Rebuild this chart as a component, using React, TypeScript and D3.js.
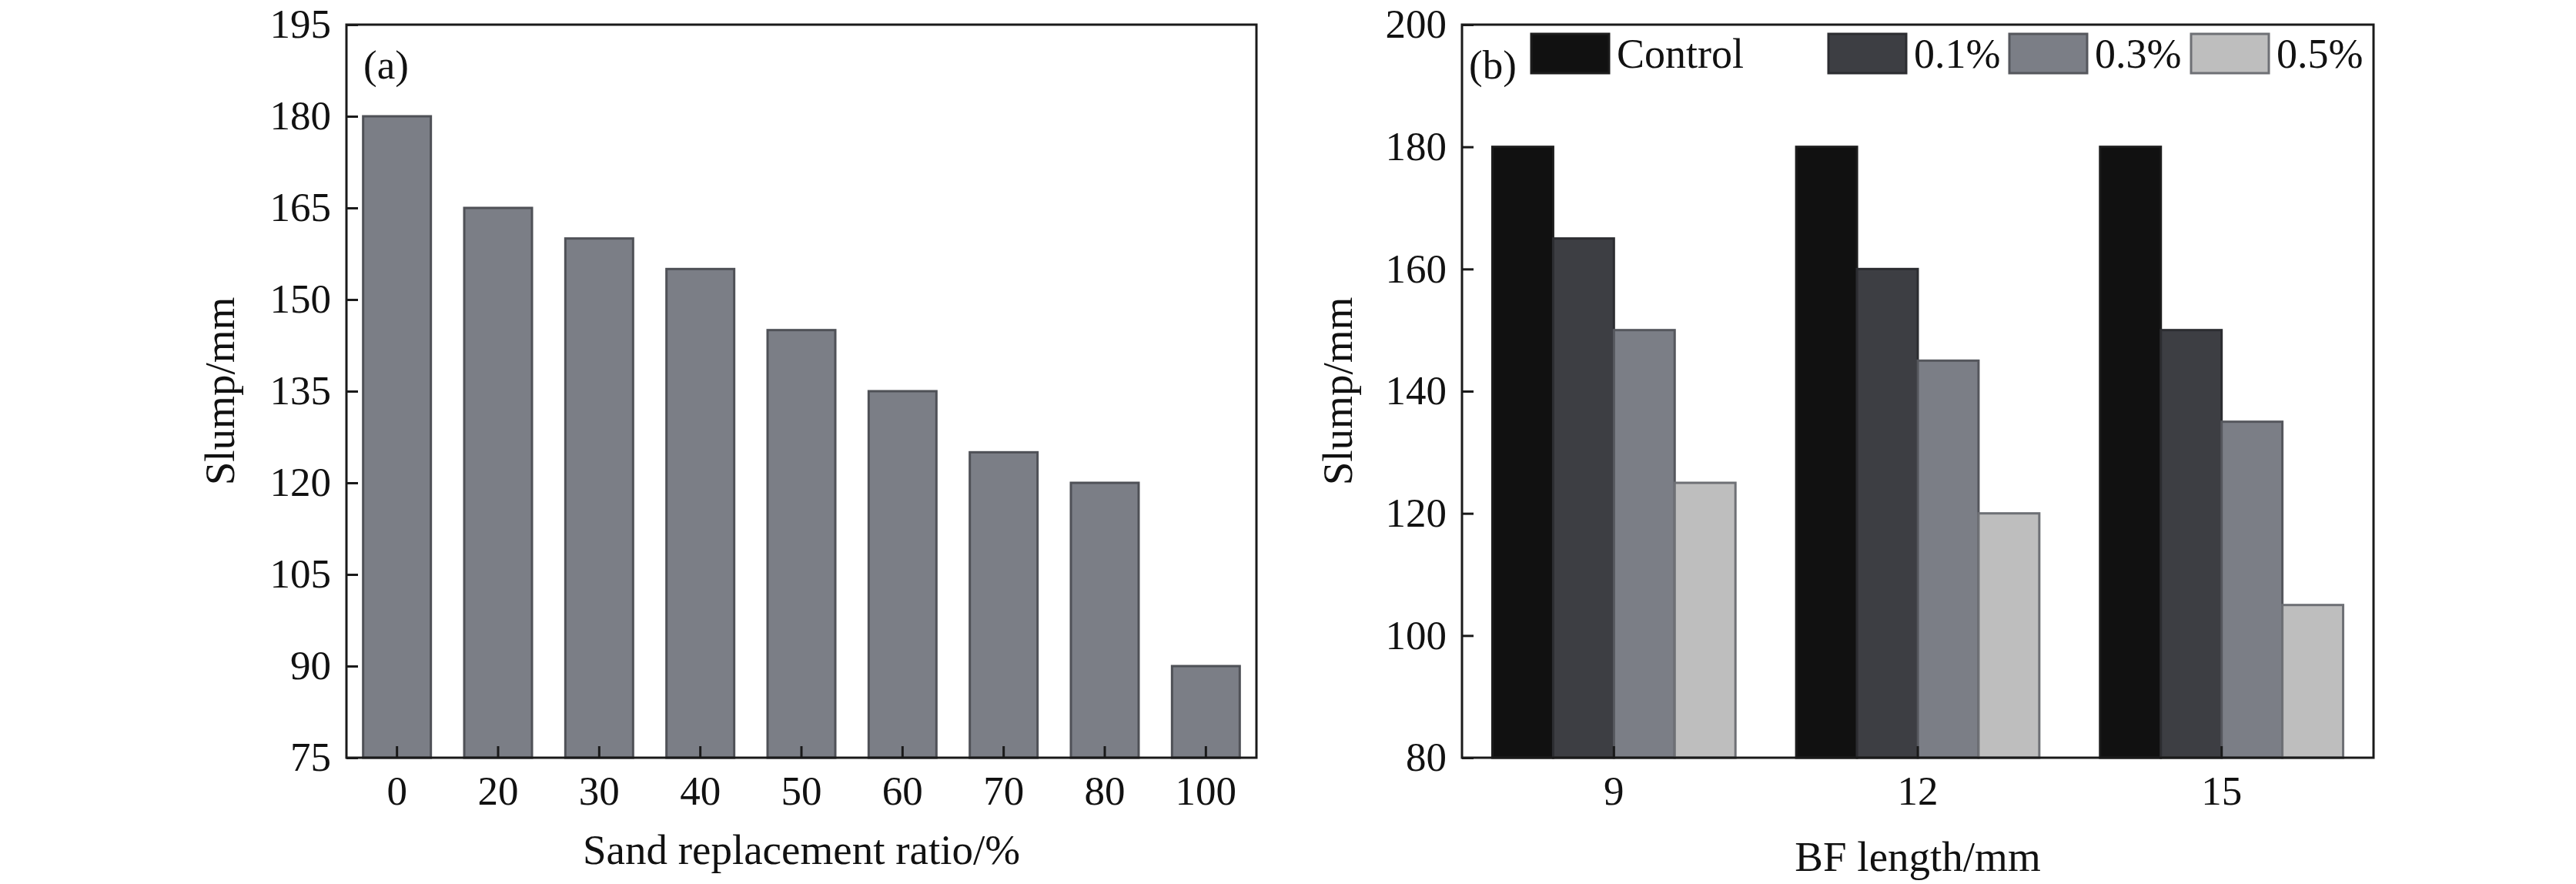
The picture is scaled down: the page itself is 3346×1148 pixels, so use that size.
import * as d3 from "d3";
import { useEffect, useRef } from "react";

// Panel (a): slump vs sand replacement ratio
const ratioCategories = ["0", "20", "30", "40", "50", "60", "70", "80", "100"];
const slumpByRatio = [180, 165, 160, 155, 145, 135, 125, 120, 90];
const ticksA = [75, 90, 105, 120, 135, 150, 165, 180, 195];

// Panel (b): slump vs BF length and fibre content
const fiberLengths = ["9", "12", "15"];
const seriesNames = ["Control", "0.1%", "0.3%", "0.5%"];
const slumpControl = [180, 180, 180];
const slump01 = [165, 160, 150];
const slump03 = [150, 145, 135];
const slump05 = [125, 120, 105];
const ticksB = [80, 100, 120, 140, 160, 180, 200];

const WIDTH = 3346;
const HEIGHT = 1148;
const FONT = "'Liberation Serif', 'Times New Roman', serif";
const AXIS_COLOR = "#1a1a1a";

const seriesFill = ["#111111", "#3d3e43", "#7b7e86", "#bebebe"];
const seriesStroke = ["#1c1c1c", "#2c2d31", "#55575d", "#6e7075"];

export default function App() {
  const svgRef = useRef<SVGSVGElement>(null);

  useEffect(() => {
    if (!svgRef.current) return;
    const svg = d3.select(svgRef.current);
    svg.selectAll("*").remove();

    const top = 32;
    const bottom = 984;

    // helper for frame + axes
    const drawAxes = (
      g: d3.Selection<SVGGElement, unknown, null, undefined>,
      x: d3.ScaleBand<string>,
      y: d3.ScaleLinear<number, number>,
      yTicks: number[],
      x0: number,
      x1: number,
    ) => {
      const xAxis = g
        .append("g")
        .attr("transform", `translate(0,${bottom})`)
        .call(d3.axisBottom(x).tickSizeInner(-15).tickSizeOuter(0).tickPadding(23));
      const yAxis = g
        .append("g")
        .attr("transform", `translate(${x0},0)`)
        .call(
          d3
            .axisLeft(y)
            .tickValues(yTicks)
            .tickFormat(d3.format("d"))
            .tickSizeInner(-15)
            .tickSizeOuter(0)
            .tickPadding(20),
        );
      [xAxis, yAxis].forEach((a) => {
        a.select(".domain").remove();
        a.selectAll("line").attr("stroke", AXIS_COLOR).attr("stroke-width", 3);
        a.selectAll("text")
          .attr("fill", "#111")
          .style("font-family", FONT)
          .style("font-size", "53px");
      });
      g.append("rect")
        .attr("x", x0)
        .attr("y", top)
        .attr("width", x1 - x0)
        .attr("height", bottom - top)
        .attr("fill", "none")
        .attr("stroke", AXIS_COLOR)
        .attr("stroke-width", 3);
    };

    const text = (
      g: d3.Selection<SVGGElement, unknown, null, undefined>,
      s: string,
      x: number,
      y: number,
      size: number,
      anchor = "start",
      rotate = false,
    ) => {
      g.append("text")
        .attr("transform", rotate ? `translate(${x},${y}) rotate(-90)` : `translate(${x},${y})`)
        .attr("text-anchor", anchor)
        .attr("fill", "#111")
        .style("font-family", FONT)
        .style("font-size", `${size}px`)
        .text(s);
    };

    // ---------- Panel (a) ----------
    const ga = svg.append("g");
    const axL = 450;
    const axR = 1632;
    const xA = d3
      .scaleBand<string>()
      .domain(ratioCategories)
      .range([axL, axR])
      .paddingInner(0.33)
      .paddingOuter(0.165);
    const yA = d3.scaleLinear().domain([75, 195]).range([bottom, top]);

    ga.selectAll("rect.bar")
      .data(slumpByRatio)
      .enter()
      .append("rect")
      .attr("class", "bar")
      .attr("x", (_, i) => xA(ratioCategories[i])!)
      .attr("y", (d) => yA(d))
      .attr("width", xA.bandwidth())
      .attr("height", (d) => bottom - yA(d))
      .attr("fill", "#7b7e86")
      .attr("stroke", "#4f5157")
      .attr("stroke-width", 3);

    drawAxes(ga, xA, yA, ticksA, axL, axR);
    text(ga, "(a)", 472, 102, 53);
    text(ga, "Slump/mm", 304, (top + bottom) / 2, 55, "middle", true);
    text(ga, "Sand replacement ratio/%", (axL + axR) / 2, 1122, 55, "middle");

    // ---------- Panel (b) ----------
    const gb = svg.append("g");
    const bxL = 1899;
    const bxR = 3083;
    const xB = d3
      .scaleBand<string>()
      .domain(fiberLengths)
      .range([bxL, bxR])
      .paddingInner(0.2)
      .paddingOuter(0.1);
    const xSub = d3
      .scaleBand<string>()
      .domain(seriesNames)
      .range([0, xB.bandwidth()])
      .padding(0);
    const yB = d3.scaleLinear().domain([80, 200]).range([bottom, top]);

    const seriesValues = [slumpControl, slump01, slump03, slump05];
    const flat = fiberLengths.flatMap((len, i) =>
      seriesNames.map((name, s) => ({ len, name, s, value: seriesValues[s][i] })),
    );

    gb.selectAll("rect.bar")
      .data(flat)
      .enter()
      .append("rect")
      .attr("class", "bar")
      .attr("x", (d) => xB(d.len)! + xSub(d.name)!)
      .attr("y", (d) => yB(d.value))
      .attr("width", xSub.bandwidth())
      .attr("height", (d) => bottom - yB(d.value))
      .attr("fill", (d) => seriesFill[d.s])
      .attr("stroke", (d) => seriesStroke[d.s])
      .attr("stroke-width", 3);

    drawAxes(gb, xB, yB, ticksB, bxL, bxR);
    text(gb, "(b)", 1908, 102, 53);
    text(gb, "Slump/mm", 1756, (top + bottom) / 2, 55, "middle", true);
    text(gb, "BF length/mm", (bxL + bxR) / 2, 1131, 55, "middle");

    // legend
    const legendOffsets = [90, 476, 711, 947];
    const legend = gb.append("g");
    seriesNames.forEach((name, s) => {
      const lx = bxL + legendOffsets[s];
      legend
        .append("rect")
        .attr("x", lx)
        .attr("y", 44)
        .attr("width", 101)
        .attr("height", 51)
        .attr("fill", seriesFill[s])
        .attr("stroke", seriesStroke[s])
        .attr("stroke-width", 3);
      text(legend, name, lx + 111, 88, 54);
    });
  }, []);

  return (
    <svg
      ref={svgRef}
      width={WIDTH}
      height={HEIGHT}
      style={{ position: "absolute", left: 0, top: 0, display: "block", background: "#fff" }}
    />
  );
}
